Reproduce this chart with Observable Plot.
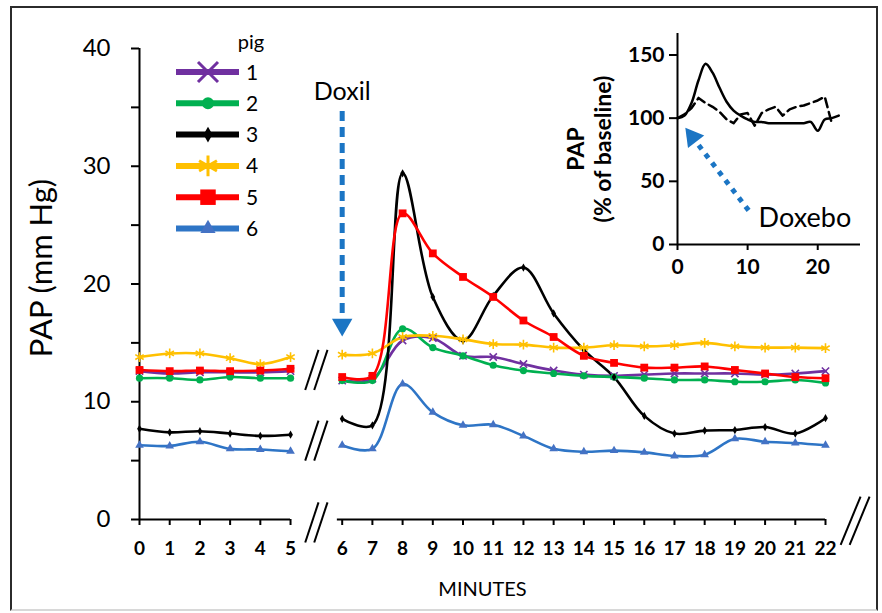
<!DOCTYPE html>
<html><head><meta charset="utf-8">
<script src="https://cdn.jsdelivr.net/npm/d3@7"></script>
<script src="https://cdn.jsdelivr.net/npm/@observablehq/plot@0.6"></script>
<style>
html,body{margin:0;padding:0;background:#fff;}
#wrap{position:relative;width:882px;height:613px;overflow:hidden;font-family:Lato,"Open Sans",sans-serif;color:#000;}
#frame{position:absolute;left:10px;top:6px;width:868px;height:605px;border:2px solid #2b2b2b;border-bottom-color:#d8d8d8;box-sizing:border-box;}
#wrap svg{position:absolute;top:0;}
</style></head><body><div id="wrap"><div id="frame"></div></div>
<script>
// ---------- data ----------
const minutes = d3.range(0, 23);               // 0..22
const pigs = ["1", "2", "3", "4", "5", "6"];
const pig1 = [12.6,12.4,12.5,12.5,12.5,12.6, 11.8,11.95,15.2,15.4,13.9,13.8,13.2,12.65,12.3,12.2,12.3,12.4,12.4,12.4,12.3,12.4,12.6];
const pig2 = [12.0,12.0,11.85,12.1,12.0,12.0, 11.8,11.8,16.2,14.6,13.9,13.1,12.65,12.4,12.2,12.1,12.0,11.85,11.85,11.7,11.7,11.85,11.6];
const pig3 = [7.7,7.4,7.5,7.3,7.1,7.2, 8.55,8.0,29.4,18.9,15.2,19.0,21.4,17.5,14.4,12.1,8.8,7.3,7.55,7.6,7.85,7.3,8.6];
const pig4 = [13.8,14.1,14.1,13.7,13.2,13.8, 14.0,14.1,15.5,15.6,15.3,14.9,14.85,14.6,14.6,14.8,14.7,14.8,15.0,14.7,14.6,14.6,14.55];
const pig5 = [12.7,12.6,12.65,12.6,12.65,12.8, 12.1,12.2,26.0,22.6,20.6,18.9,16.9,15.5,13.9,13.3,12.9,12.9,13.0,12.7,12.4,12.1,12.0];
const pig6 = [6.3,6.25,6.6,6.0,5.95,5.8, 6.3,6.0,11.5,9.1,8.0,8.05,7.1,6.0,5.75,5.85,5.7,5.4,5.5,6.85,6.6,6.5,6.3];
const pigValues = [pig1, pig2, pig3, pig4, pig5, pig6];
const yTicks = [0, 5, 10, 15, 20, 25, 30, 35, 40];

// inset (Doxebo), % of baseline
const doxilMinutes = d3.range(0, 24);
const doxilPct = [100,102,112,130,143,136,124,113,106,102,99,97,97,96,96,96,96,96,96,97,90,99,100,102];
const doxeboMinutes = d3.range(0, 23);
const doxeboPct = [100,103,108,116,112,109,105,99,96,103,104,94,104,107,109,102,107,109,110,112,114,117,96];
const insetYTicks = [0, 50, 100, 150];
const insetXTicks = [0, 10, 20];

// ---------- styling ----------
const colors = ["#7030a0", "#00b050", "#000000", "#ffc000", "#ff0000", "#2e75c6"];
const markColors = ["#7030a0", "#00b050", "#000000", "#ffc000", "#ff0000", "#4472c4"];
const symbols = ["times", "circle", "diamond", "asterisk", "square", "triangle"];
const d3symbols = [d3.symbolTimes, d3.symbolCircle, d3.symbolDiamond, d3.symbolAsterisk, d3.symbolSquare, d3.symbolTriangle];
const strokeSym = [true, false, false, true, false, false];
const markR = [3.4, 3.6, 2.5, 4.6, 4.4, 3.2];
const legendSize = [263, 113, 70, 300, 240, 100];
const BLUE = "#1b75c4";
const FONT = "Lato, 'Open Sans', sans-serif";

// broken x axis: minutes after 5 are shifted right by a gap
const GAP = 0.71;
const pos = m => m <= 5 ? m : m + GAP;
const unpos = p => Math.round(p > 5.5 ? p - GAP : p);

const rows = [];
pigs.forEach((p, i) => minutes.forEach((m, j) => rows.push({pig: p, i, m, v: pigValues[i][j], seg: m <= 5 ? "a" : "b", pos: pos(m)})));

const axisSegs = [{from: 0, to: 5}, {from: 5.84, to: 22}];
const breaks = [
  {x: (pos(5) + pos(6)) / 2, y: 12.7, w: 0.22, h: 1.7},
  {x: (pos(5) + pos(6)) / 2, y: 6.7, w: 0.22, h: 1.7},
  {x: (pos(5) + pos(6)) / 2, y: -0.25, w: 0.22, h: 1.7},
  {x: pos(22) + 0.98, y: -0.1, w: 0.33, h: 2.05}
];
const doxil = [{minute: 6, top: 34.7, base: 17.4, head: 16.55, labelY: 35.6, text: "Doxil"}];

const main = Plot.plot({
  width: 882, height: 613,
  marginLeft: 139, marginRight: 57, marginTop: 48, marginBottom: 94,
  style: {fontFamily: FONT, background: "transparent", color: "#000", overflow: "visible"},
  x: {domain: [0, 22 + GAP], axis: null},
  y: {domain: [0, 40], axis: null},
  color: {domain: pigs, range: colors},
  marks: [
    Plot.ruleX([0], {y1: 0, y2: 40, strokeWidth: 2}),
    Plot.axisY({ticks: yTicks, tickSize: 8, tickPadding: 21, tickFormat: d => d % 10 === 0 ? d : "", fontSize: 24, strokeWidth: 2, label: null}),
    Plot.ruleY(axisSegs, {y: () => 0, x1: d => pos(d.from), x2: d => pos(d.to), strokeWidth: 2}),
    Plot.axisX({ticks: minutes.map(pos), tickFormat: unpos, tickSize: 6, tickPadding: 16, fontSize: 19, fontWeight: "bold", strokeWidth: 2, label: null}),
    Plot.link(breaks, {x1: d => d.x - d.w, y1: d => d.y - d.h, x2: d => d.x + d.w, y2: d => d.y + d.h, dx: -4.5, strokeWidth: 2}),
    Plot.link(breaks, {x1: d => d.x - d.w, y1: d => d.y - d.h, x2: d => d.x + d.w, y2: d => d.y + d.h, dx: 4.5, strokeWidth: 2}),
    Plot.line(rows, {x: "pos", y: "v", z: d => d.pig + d.seg, stroke: "pig", strokeWidth: 2.6, curve: "catmull-rom"}),
    ...pigs.map((p, i) => Plot.dot(rows.filter(d => d.pig === p), {
      x: "pos", y: "v", symbol: () => symbols[i], r: markR[i],
      fill: strokeSym[i] ? "none" : markColors[i], stroke: strokeSym[i] ? markColors[i] : "none", strokeWidth: 1.6
    })),
    Plot.link(doxil, {x1: d => pos(d.minute), x2: d => pos(d.minute), y1: "top", y2: "base", stroke: BLUE, strokeWidth: 5, strokeDasharray: "10,6"}),
    Plot.dot(doxil, {x: d => pos(d.minute), y: "head", symbol: "triangle", r: 7.6, rotate: 180, fill: BLUE}),
    Plot.text(doxil, {x: d => pos(d.minute), y: "labelY", text: "text", lineAnchor: "bottom", fontSize: 25}),
    Plot.text(["PAP (mm Hg)"], {frameAnchor: "left", textAnchor: "middle", dx: -97, dy: -16, rotate: -90, fontSize: 31}),
    Plot.text(["MINUTES"], {frameAnchor: "bottom", dy: 76, fontSize: 20})
  ]
});
main.style.left = "0px";
document.getElementById("wrap").appendChild(main);

// ---------- inset ----------
const dxRows = doxilMinutes.map((m, j) => ({m, v: doxilPct[j]}));
const dbRows = doxeboMinutes.map((m, j) => ({m, v: doxeboPct[j]}));
const doxeboArrow = [{x1: 10.14, y1: 27, x2: 2.63, y2: 81.3, hx: 2.14, hy: 85, angle: -37.5, tx: 11.57, ty: 13.5, text: "Doxebo"}];
const inset = Plot.plot({
  width: 342, height: 290,
  marginLeft: 137, marginRight: 22, marginTop: 33, marginBottom: 46,
  style: {fontFamily: FONT, background: "transparent", color: "#000", overflow: "visible"},
  x: {domain: [0, 26.1], axis: null},
  y: {domain: [0, 167], axis: null},
  marks: [
    Plot.ruleX([0], {strokeWidth: 2}),
    Plot.ruleY([0], {strokeWidth: 2}),
    Plot.axisY({ticks: insetYTicks, tickSize: 8, tickPadding: 5, fontSize: 21, fontWeight: "bold", strokeWidth: 2, label: null}),
    Plot.axisX({ticks: insetXTicks, tickSize: 6, tickPadding: 9, fontSize: 21, fontWeight: "bold", strokeWidth: 2, label: null}),
    Plot.line(dbRows, {x: "m", y: "v", strokeWidth: 2.5, strokeDasharray: "9,5"}),
    Plot.line(dxRows, {x: "m", y: "v", strokeWidth: 2.5, curve: "catmull-rom"}),
    Plot.link(doxeboArrow, {x1: "x1", y1: "y1", x2: "x2", y2: "y2", stroke: BLUE, strokeWidth: 5, strokeDasharray: "5,6"}),
    Plot.dot(doxeboArrow, {x: "hx", y: "hy", symbol: "triangle", r: 7.6, rotate: "angle", fill: BLUE}),
    Plot.text(doxeboArrow, {x: "tx", y: "ty", text: "text", textAnchor: "start", lineAnchor: "bottom", fontSize: 27}),
    Plot.text(["PAP"], {frameAnchor: "left", textAnchor: "middle", dx: -101, dy: 10, rotate: -90, fontSize: 23, fontWeight: "bold"}),
    Plot.text(["(% of baseline)"], {frameAnchor: "left", textAnchor: "middle", dx: -74, dy: 10, rotate: -90, fontSize: 23, fontWeight: "bold"})
  ]
});
inset.style.left = "540px";
document.getElementById("wrap").appendChild(inset);

// ---------- legend ----------
const lg = d3.create("svg").attr("width", 882).attr("height", 613).style("left", "0px")
  .attr("font-family", FONT);
lg.append("text").attr("x", 251).attr("y", 49).attr("text-anchor", "middle").attr("font-size", 20).text("pig");
pigs.forEach((p, i) => {
  const y = 72 + i * 31.3;
  const g = lg.append("g");
  g.append("line").attr("x1", 176).attr("x2", 239).attr("y1", y).attr("y2", y).attr("stroke", colors[i]).attr("stroke-width", 6);
  g.append("path").attr("transform", `translate(208,${y})`).attr("d", d3.symbol(d3symbols[i], legendSize[i])())
    .attr("fill", strokeSym[i] ? "none" : markColors[i]).attr("stroke", strokeSym[i] ? markColors[i] : "none").attr("stroke-width", 3);
  g.append("text").attr("x", 246).attr("y", y).attr("dy", "0.36em").attr("font-size", 21).text(p);
});
document.getElementById("wrap").appendChild(lg.node());
</script></body></html>
